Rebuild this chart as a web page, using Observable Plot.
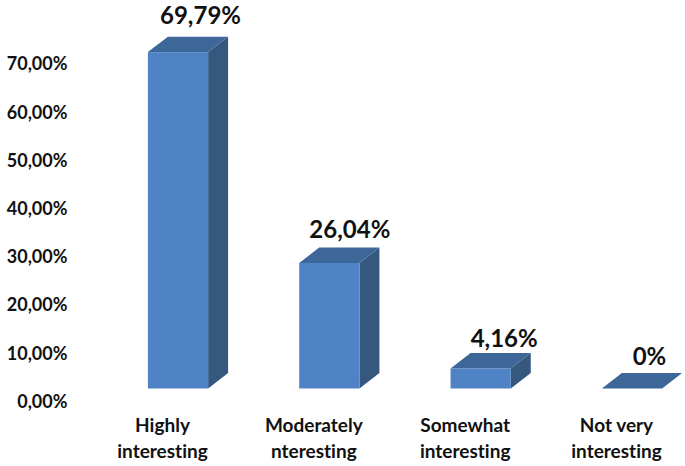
<!DOCTYPE html>
<html>
<head>
<meta charset="utf-8">
<script src="https://cdn.jsdelivr.net/npm/d3@7"></script>
<script src="https://cdn.jsdelivr.net/npm/@observablehq/plot@0.6"></script>
<style>
html,body{margin:0;padding:0;background:#fff}
svg{display:block;font-variant-ligatures:none}
svg text{font-variant-ligatures:none;font-feature-settings:"liga" 0,"clig" 0}
</style>
</head>
<body>
<div id="chart"></div>
<script>
const lineOne = ["Highly", "Moderately", "Somewhat", "Not very"];
const lineTwo = ["interesting", "nteresting", "interesting", "interesting"];
const values = [69.79, 26.04, 4.16, 0];
const valueLabels = ["69,79%", "26,04%", "4,16%", "0%"];
const yTicks = [0, 10, 20, 30, 40, 50, 60, 70];

const halfWidth = 0.199, depthX = 0.132, depthY = 3.2;
const font = "Lato, 'Open Sans', sans-serif";
const rows = values.map((v, i) => ({i, v, one: lineOne[i], two: lineTwo[i], label: valueLabels[i], x1: i - halfWidth, x2: i + halfWidth, zero: 0}));
const side = rows.flatMap(d => [
  {i: d.i, x: d.x2, lo: 0, hi: d.v},
  {i: d.i, x: d.x2 + depthX, lo: depthY, hi: d.v + depthY}
]);
const top_ = rows.flatMap(d => [
  {i: d.i, y: d.v, a: d.x1, b: d.x2},
  {i: d.i, y: d.v + depthY, a: d.x1 + depthX, b: d.x2 + depthX}
]);
const labelDx = [22, 20, 23, 17];
const labelDy = [-36, -33, -30, -32];

const chart = Plot.plot({
  width: 685, height: 466,
  marginLeft: 67, marginRight: 0, marginTop: 0, marginBottom: 0,
  style: {background: "#fff", fontFamily: font},
  x: {type: "linear", domain: [0, 3], range: [178, 632], axis: null},
  y: {type: "linear", domain: [0, 70], range: [388.5, 51.1]},
  marks: [
    Plot.axisY({anchor: "left", ticks: yTicks, tickSize: 0, tickPadding: 0, dy: 13, label: null,
      tickFormat: d => d.toFixed(2).replace(".", ",") + "%",
      fontSize: 18, fontWeight: 700, fill: "#111", textStroke: "none"}),
    Plot.areaY(side, {x: "x", y1: "lo", y2: "hi", z: "i", fill: "#36587f"}),
    Plot.areaX(top_, {y: "y", x1: "a", x2: "b", z: "i", fill: "#3d6798"}),
    Plot.rect(rows, {x1: "x1", x2: "x2", y1: "zero", y2: "v", fill: "#5083c5"}),
    Plot.text(rows, {x: "i", y: "zero", text: "one", dx: -16, dy: 37, fontSize: 19, fontWeight: 700, fill: "#111"}),
    Plot.text(rows, {x: "i", y: "zero", text: "two", dx: -16, dy: 63, fontSize: 19, fontWeight: 700, fill: "#111"}),
    ...rows.map((d, k) => Plot.text([d], {x: "i", y: "v", text: "label", dx: labelDx[k], dy: labelDy[k], fontSize: 24, fontWeight: 700, fill: "#111"}))
  ]
});
document.getElementById("chart").appendChild(chart);
</script>
</body>
</html>
